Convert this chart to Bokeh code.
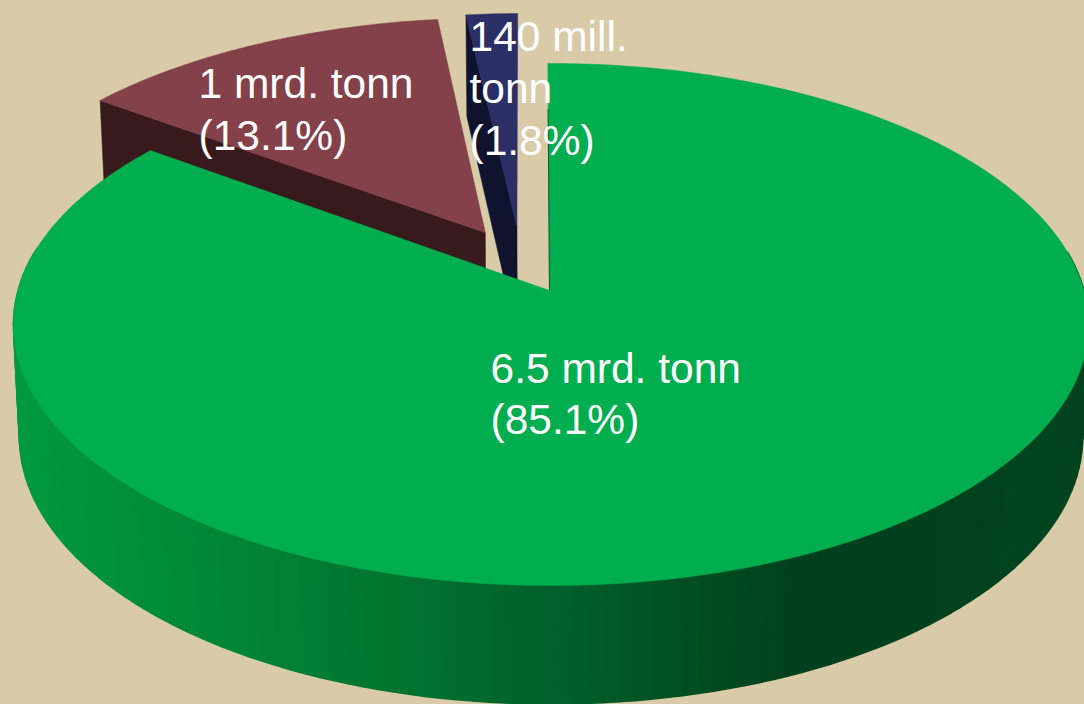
import numpy as np
from bokeh.plotting import figure
from bokeh.models import Range1d
from bokeh.embed import file_html
from bokeh.resources import INLINE
from bokeh.core.properties import value

# --- data ---
shares = [85.1, 13.1, 1.8]
first_lines = ["6.5 mrd. tonn", "1 mrd. tonn", "140 mill."]
extra_lines = [["(85.1%)"], ["(13.1%)"], ["tonn", "(1.8%)"]]

# --- styling / geometry of the 3D projection ---
W, H = 1084, 704
BG = "#d9cba7"
top_colors = ["#00ae4f", "#84414a", "#2c2e66"]
wall_colors = ["#00602b", "#381a1d", "#10132d"]
# world-space explode offset (X, Y) of each slice
offsets = [(0.0, 0.0), (-0.1270, 0.2325), (-0.0660, 0.256)]
CX, R, AY, BY, CW = 550.5, 533.0, 290.0, -218.8, 0.1303
START_DEG = -0.39
APEX_SHIFT = -1.5
SHRINK = 0.989
grad_x = [0, 20, 300, 545, 800, 1000, 1084]
grad_g = [155, 154, 127, 98, 64, 67, 67]
grad_b = [63, 62, 53, 43, 28, 31, 31]
label_x = [490, 198, 469]
label_y = [[367.5, 419], [83, 135], [36, 88, 140]]
FONT_PX = "42.5px"


def project(X, Y):
    X, Y = np.asarray(X, float), np.asarray(Y, float)
    w = 1 + CW * Y
    return CX + R * X / w, (AY + BY * Y) / w


def project_low(X, Y):
    x, y = project(X, Y)
    return CX + (x - CX) * SHRINK, y + 111 - 7.5 * np.asarray(Y, float)


p = figure(width=W, height=H, x_range=Range1d(0, W), y_range=Range1d(H, 0),
           output_backend="svg", toolbar_location=None,
           background_fill_color=BG, border_fill_color=BG,
           min_border=0, outline_line_color=None)
p.axis.visible = False
p.grid.visible = False

# cumulative clockwise angles from 12 o'clock
edges = START_DEG + np.concatenate([[0], np.cumsum(shares)]) / sum(shares) * 360
slices = []
for i in range(len(shares)):
    t = np.radians(np.linspace(edges[i], edges[i + 1], max(4, int(shares[i] * 6))))
    ox, oy = offsets[i]
    slices.append((ox + np.sin(t), oy + np.cos(t), ox, oy))

# far slices: cut wall (left edge plane) then top face
for i in (2, 1):
    X, Y, ox, oy = slices[i]
    ax, ay = project(ox, oy)
    rx, ry = project(X, Y)
    lax, lay = project_low(ox, oy)
    lx0, ly0 = project_low(X[0], Y[0])
    p.patch([rx[0], ax, lax, lx0], [ry[0], ay, lay, ly0],
            color=wall_colors[i], line_width=0.5)
    p.patch(np.r_[ax, rx], np.r_[ay, ry], color=top_colors[i], line_width=0.5)

# green outer wall as vertical strips, shaded by position
ox, oy = offsets[0]
t_fine = np.radians(np.linspace(edges[0], edges[1], 200))
Xf, Yf = ox + np.sin(t_fine), oy + np.cos(t_fine)
tx, ty = project(Xf, Yf)
bx, by = project_low(Xf, Yf)
for a in range(len(t_fine) - 1):
    if Yf[a] > 0.15 and Yf[a + 1] > 0.15:
        continue
    mid = 0.5 * (bx[a] + bx[a + 1])
    g = int(np.interp(mid, grad_x, grad_g))
    b = int(np.interp(mid, grad_x, grad_b))
    col = f"#00{g:02x}{b:02x}"
    p.patch([tx[a], tx[a + 1], bx[a + 1], bx[a]], [ty[a], ty[a + 1], by[a + 1], by[a]],
            color=col, line_width=1.5)

# green top face
ax, ay = project(ox, oy)
ax = ax + APEX_SHIFT
p.patch(np.r_[ax, tx], np.r_[ay, ty], color=top_colors[0], line_width=0.5)
# thin dark sliver along the start edge
p.line([ax, ax + (tx[0] - ax) * 0.8], [ay, ay + (ty[0] - ay) * 0.8],
       line_color=wall_colors[0], line_width=1)

# labels
for i in range(len(shares)):
    lines = [first_lines[i]] + extra_lines[i]
    p.text(x=[label_x[i]] * len(lines), y=label_y[i], text=lines,
           text_color="#ffffff", text_font=value("Liberation Sans"),
           text_font_size=value(FONT_PX), text_baseline="alphabetic", text_align="left")

html = file_html(p, INLINE)
html = html.replace("</head>", f"<style>html,body{{margin:0;padding:0;background:{BG};overflow:hidden}}</style></head>", 1)
open("out.html", "w").write(html)
